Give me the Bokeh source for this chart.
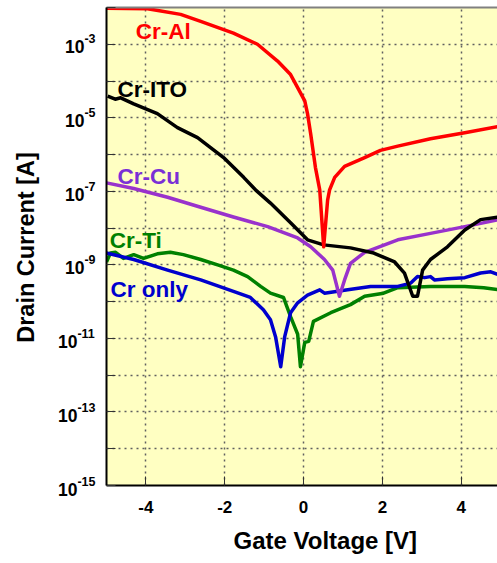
import math
from bokeh.plotting import figure
from bokeh.layouts import row
from bokeh.models import FixedTicker, Label, LinearAxis, Title
from bokeh.core.properties import value
from bokeh.embed import file_html
from bokeh.resources import INLINE

# ---- data ----
al_v = [-5.0, -3.96, -3.12, -2.61, -1.78, -1.17, -0.66, -0.33, -0.13, 0.03, 0.10, 0.18, 0.30, 0.41,
        0.51, 0.61, 0.66, 0.79, 1.04, 1.55, 1.95, 2.39, 3.22, 4.09, 4.95]
al_i = [9.5e-3, 9.3e-3, 6.5e-3, 4.2e-3, 2.0e-3, 1.0e-3, 3.5e-4, 1.5e-4, 6.0e-5, 2.9e-5, 1.3e-5, 3.7e-6,
        4.5e-7, 1.1e-7, 3.1e-9, 5.8e-8, 1.1e-7, 2.4e-7, 4.8e-7, 8.3e-7, 1.3e-6, 1.7e-6, 2.7e-6, 3.9e-6, 5.8e-6]

ito_v = [-4.97, -4.78, -4.64, -4.31, -3.71, -3.20, -2.69, -2.03, -1.52, -1.22, -0.84, -0.33, 0.10, 0.51,
         1.19, 1.78, 2.31, 2.56, 2.77, 2.89, 3.02, 3.22, 3.65, 4.09, 4.49, 4.95]
ito_i = [3.9e-5, 3.2e-5, 3.5e-5, 2.4e-5, 1.3e-5, 5.4e-6, 2.9e-6, 8.3e-7, 2.4e-7, 1.1e-7, 4.8e-8, 1.4e-8,
         4.8e-9, 3.5e-9, 2.9e-9, 2.1e-9, 1.2e-9, 6.0e-10, 1.4e-10, 1.4e-10, 7.2e-10, 1.4e-9, 3.1e-9,
         8.9e-9, 1.7e-8, 2.0e-8]

cu_v = [-5.0, -4.31, -3.45, -2.61, -1.78, -0.91, -0.15, 0.18, 0.53, 0.74, 0.91, 1.04, 1.19, 1.55, 2.39,
        3.22, 4.09, 4.95]
cu_i = [1.7e-7, 1.2e-7, 6.9e-8, 3.7e-8, 2.0e-8, 1.1e-8, 5.4e-9, 3.1e-9, 1.4e-9, 7.2e-10, 1.4e-10, 3.9e-10,
        1.1e-9, 2.2e-9, 4.8e-9, 7.2e-9, 1.1e-8, 1.7e-8]

ti_v = [-5.0, -4.90, -4.77, -4.57, -4.31, -4.06, -3.71, -3.38, -3.05, -2.61, -2.18, -1.78, -1.42, -1.09,
        -0.84, -0.51, -0.33, -0.15, -0.08, 0.03, 0.13, 0.25, 0.69, 1.19, 1.55, 2.03, 2.39, 3.22, 4.09,
        4.57, 4.95]
ti_i = [1.2e-9, 2.1e-9, 2.2e-9, 1.5e-9, 1.9e-9, 1.5e-9, 2.0e-9, 2.2e-9, 1.9e-9, 1.4e-9, 1.0e-9, 7.2e-10,
        4.8e-10, 2.6e-10, 1.7e-10, 1.3e-10, 3.9e-11, 1.3e-11, 1.7e-12, 7.8e-12, 8.3e-12, 2.9e-11, 5.0e-11,
        8.3e-11, 1.4e-10, 1.7e-10, 2.4e-10, 2.6e-10, 2.6e-10, 2.4e-10, 2.1e-10]

cr_v = [-5.0, -4.31, -3.45, -2.61, -1.78, -1.35, -1.02, -0.84, -0.71, -0.58, -0.48, -0.33, -0.15, 0.10,
        0.41, 0.53, 1.12, 1.70, 2.39, 2.72, 2.89, 3.07, 3.22, 3.32, 3.65, 4.09, 4.49, 4.75, 4.95]
cr_i = [2.1e-9, 1.4e-9, 7.2e-10, 3.9e-10, 1.9e-10, 1.3e-10, 6.0e-11, 3.2e-11, 1.1e-11, 1.7e-12, 1.1e-11,
        5.0e-11, 9.3e-11, 1.5e-10, 2.1e-10, 1.7e-10, 2.1e-10, 2.6e-10, 2.6e-10, 3.2e-10, 4.8e-10, 4.5e-10,
        4.8e-10, 3.9e-10, 4.2e-10, 4.5e-10, 6.0e-10, 6.5e-10, 5.4e-10]

x_ticks = [-4, -2, 0, 2, 4]
x_tick_labels = ["-4", "-2", "0", "2", "4"]
y_decades = list(range(-15, -1))
y_label_exps = [-3, -5, -7, -9, -11, -13, -15]

FONT = "Liberation Sans"
H = 563
TOP = 7
BOTTOM = 76
FRAME_H = H - TOP - BOTTOM
LEFT_W = 104

LOG_LO, LOG_HI = -15.0, -2.0
Y_RANGE = (10 ** LOG_LO, 10 ** LOG_HI)
# left strip spans the full height with the same decade scale as the main frame
dec_per_px = (LOG_HI - LOG_LO) / FRAME_H
LEFT_RANGE = (10 ** (LOG_LO - BOTTOM * dec_per_px), 10 ** (LOG_HI + TOP * dec_per_px))

# ---------- left strip: y tick labels (10^n) and y title ----------
lf = figure(width=LEFT_W, height=H, x_range=(0, LEFT_W), y_range=LEFT_RANGE, y_axis_type="log",
            output_backend="svg", toolbar_location=None, x_axis_location=None, y_axis_location=None,
            min_border_left=0, min_border_right=0, min_border_top=0, min_border_bottom=0)
lf.frame_align = False
lf.outline_line_color = None
lf.background_fill_color = "white"
lf.border_fill_color = "white"
lf.xgrid.visible = False
lf.ygrid.visible = False

LABEL_RIGHT = 95
ten_x, sup_x, lab_y, sup_t = [], [], [], []
for k in y_label_exps:
    s = str(k)
    w = 12.5 * (0.333 + 0.556 * (len(s) - 1))
    sup_x.append(LABEL_RIGHT - w)
    ten_x.append(LABEL_RIGHT - w)
    lab_y.append(10.0 ** k)
    sup_t.append(s)
lf.text(ten_x, lab_y, text=["10"] * len(ten_x), text_font=value(FONT), text_font_style="bold",
        text_font_size="17.5px", text_align="right", text_baseline="middle", y_offset=2,
        text_color="black")
lf.text(sup_x, lab_y, text=sup_t, text_font=value(FONT), text_font_style="bold",
        text_font_size="12.5px", text_align="left", text_baseline="middle", y_offset=-6,
        text_color="black")
lf.text([25], [10 ** -8.5], text=["Drain Current [A]"], angle=math.pi / 2, text_font=value(FONT),
        text_font_style="bold", text_font_size="23.5px", text_align="center", text_baseline="middle",
        text_color="black")

# ---------- main plot ----------
p = figure(width=497 - LEFT_W, height=H, x_range=(-5, 4.92), y_range=Y_RANGE,
           y_axis_type="log", output_backend="svg", toolbar_location=None,
           min_border_left=2, min_border_right=0, min_border_top=TOP, min_border_bottom=BOTTOM)
p.frame_align = False

p.background_fill_color = "#FFFFC2"
p.border_fill_color = "white"
p.outline_line_color = None

# top border as a bare axis
top_ax = LinearAxis(ticker=FixedTicker(ticks=[]), axis_line_color="#808080", axis_line_width=2,
                    major_tick_line_color=None, minor_tick_line_color=None,
                    major_label_text_color=None, major_label_standoff=0)
p.add_layout(top_ax, "above")

p.below[0].ticker = FixedTicker(ticks=x_ticks, minor_ticks=[])
p.yaxis.ticker = FixedTicker(ticks=[10.0 ** k for k in y_decades], minor_ticks=[])
for ax in (p.below[0], p.yaxis[0]):
    ax.axis_line_color = "black"
    ax.axis_line_width = 2
    ax.major_tick_in = 9
    ax.major_tick_out = 0
    ax.major_tick_line_color = "#333333"
    ax.minor_tick_line_color = None
    ax.major_label_text_font = FONT
    ax.major_label_text_font_style = "bold"
    ax.major_label_text_color = "black"

xa = p.below[0]
xa.major_label_text_font_size = "17px"
xa.major_label_standoff = 15
xa.major_label_overrides = {t: s for t, s in zip(x_ticks, x_tick_labels)}

p.yaxis.major_label_overrides = {10.0 ** k: "" for k in y_decades}
p.yaxis.major_label_standoff = 0

# grids
p.xgrid.ticker = FixedTicker(ticks=x_ticks, minor_ticks=[])
for g in (p.xgrid[0], p.ygrid[0]):
    g.grid_line_color = "#606060"
    g.grid_line_dash = "2 4"
    g.grid_line_width = 1.5

# curves
series = [
    (ti_v, ti_i, "#008000"),
    (cr_v, cr_i, "#0000CD"),
    (cu_v, cu_i, "#9932CC"),
    (ito_v, ito_i, "black"),
    (al_v, al_i, "#FF0000"),
]
for xs, ys, c in series:
    p.line(xs, ys, line_color=c, line_width=3.5, line_join="round")

# curve labels
curve_labels = [
    ("Cr-Al", -4.26, 10 ** -2.65, "#FF0000"),
    ("Cr-ITO", -4.72, 10 ** -4.24, "black"),
    ("Cr-Cu", -4.72, 10 ** -6.59, "#7A2FD6"),
    ("Cr-Ti", -4.92, 10 ** -8.35, "#008000"),
    ("Cr only", -4.90, 10 ** -9.68, "#0000CD"),
]
for txt, x, y, c in curve_labels:
    p.add_layout(Label(x=x, y=y, text=txt, text_color=c, text_font=FONT, text_font_style="bold",
                       text_font_size="22.5px", text_align="left", text_baseline="middle"))

# x axis title
p.add_layout(Title(text="Gate Voltage [V]", align="left", offset=127, text_font=FONT,
                   text_font_style="bold", text_font_size="24px", text_color="black",
                   standoff=19), "below")

layout = row(lf, p)
open("out.html", "w").write(file_html(layout, INLINE))
